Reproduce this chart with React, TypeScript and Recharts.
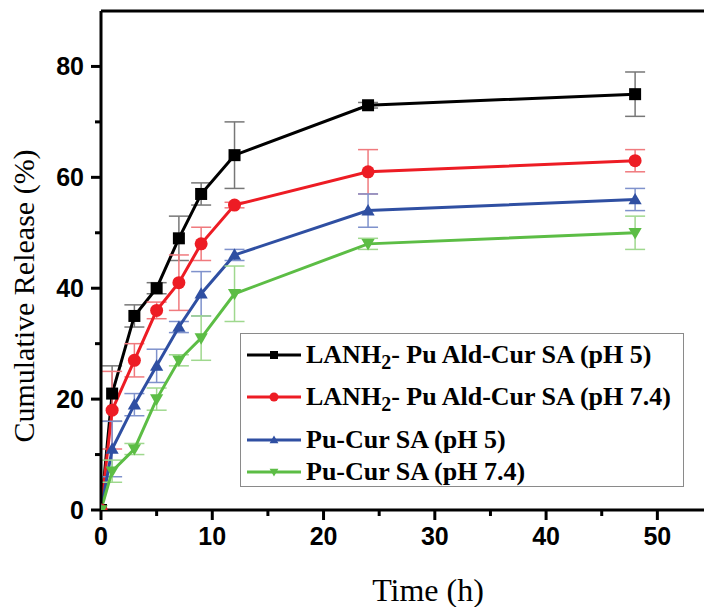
import * as React from "react";
import { LineChart, Line, XAxis, YAxis, ErrorBar, ReferenceLine } from "recharts";

const times = [0, 1, 3, 5, 7, 9, 12, 24, 48];

const lanhPh5 = [0, 21, 35, 40, 49, 57, 64, 73, 75];
const lanhPh5Err = [0, 5, 2, 1, 4, 2, 6, 0.5, 4];
const lanhPh74 = [0, 18, 27, 36, 41, 48, 55, 61, 63];
const lanhPh74Err = [0, 7, 3, 1.5, 5, 3, 0.5, 4, 2];
const puPh5 = [0, 11, 19, 26, 33, 39, 46, 54, 56];
const puPh5Err = [0, 5, 2, 3, 1, 4, 1, 3, 2];
const puPh74 = [0, 7, 11, 20, 27, 31, 39, 48, 50];
const puPh74Err = [0, 2, 1, 2, 1, 4, 5, 1, 3];

const xTicks = [0, 5, 10, 15, 20, 25, 30, 35, 40, 45, 50];
const yTicks = [0, 10, 20, 30, 40, 50, 60, 70, 80];

const BLACK = "#000000";
const RED = "#ed1c24";
const BLUE = "#2f4fa2";
const GREEN = "#5cbd45";

const data = times.map((t, i) => ({
  t,
  a: lanhPh5[i],
  aErr: lanhPh5Err[i],
  b: lanhPh74[i],
  bErr: lanhPh74Err[i],
  c: puPh5[i],
  cErr: puPh5Err[i],
  d: puPh74[i],
  dErr: puPh74Err[i],
}));

const tickFont = { fontFamily: "'Liberation Sans', Arial, sans-serif", fontWeight: 700, fontSize: 25 };
const serif = "'Liberation Serif', 'Times New Roman', serif";

function XTick(props: any) {
  const { x, y, payload } = props;
  const major = payload.value % 10 === 0;
  return (
    <g>
      <line x1={x} x2={x} y1={y} y2={y + (major ? 10 : 6)} stroke="#000" strokeWidth={3} />
      {major && (
        <text x={x} y={y + 35} textAnchor="middle" fill="#000" style={tickFont}>
          {payload.value}
        </text>
      )}
    </g>
  );
}

function YTick(props: any) {
  const { x, y, payload } = props;
  const major = payload.value % 20 === 0;
  return (
    <g>
      <line x1={x - (major ? 10 : 6)} x2={x} y1={y} y2={y} stroke="#000" strokeWidth={3} />
      {major && (
        <text x={x - 17} y={y + 9} textAnchor="end" fill="#000" style={tickFont}>
          {payload.value}
        </text>
      )}
    </g>
  );
}

function Marker({ kind, cx, cy, color, s }: { kind: string; cx: number; cy: number; color: string; s: number }) {
  if (kind === "square") return <rect x={cx - s / 2} y={cy - s / 2} width={s} height={s} fill={color} />;
  if (kind === "circle") return <circle cx={cx} cy={cy} r={s / 2} fill={color} />;
  if (kind === "up")
    return (
      <polygon
        points={`${cx},${cy - s * 0.55} ${cx - s * 0.55},${cy + s * 0.4} ${cx + s * 0.55},${cy + s * 0.4}`}
        fill={color}
      />
    );
  return (
    <polygon
      points={`${cx},${cy + s * 0.55} ${cx - s * 0.55},${cy - s * 0.4} ${cx + s * 0.55},${cy - s * 0.4}`}
      fill={color}
    />
  );
}

const dotFor = (kind: string, color: string) => (p: any) =>
  <Marker key={`${kind}-${p.index}`} kind={kind} cx={p.cx} cy={p.cy} color={color} s={kind === "circle" ? 13 : 12} />;

const legendRows = [
  { kind: "square", color: BLACK, text: "LANH", sub: "2", rest: "- Pu Ald-Cur SA (pH 5)", cy: 354 },
  { kind: "circle", color: RED, text: "LANH", sub: "2", rest: "- Pu Ald-Cur SA (pH 7.4)", cy: 396 },
  { kind: "up", color: BLUE, text: "Pu-Cur SA (pH 5)", sub: "", rest: "", cy: 439 },
  { kind: "down", color: GREEN, text: "Pu-Cur SA (pH 7.4)", sub: "", rest: "", cy: 471 },
];

export default function App() {
  return (
    <div
      style={{
        position: "fixed",
        left: 0,
        top: 0,
        width: 704,
        height: 607,
        overflow: "hidden",
        background: "#fff",
      }}
    >
      <LineChart width={720} height={607} data={data} margin={{ top: 11, right: 7, left: 0, bottom: 0 }}>
        <XAxis
          type="number"
          dataKey="t"
          domain={[0, 55]}
          ticks={xTicks}
          interval={0}
          height={97}
          tickLine={false}
          tickSize={0}
          tickMargin={0}
          tick={<XTick />}
          axisLine={{ stroke: "#000", strokeWidth: 3 }}
          allowDataOverflow
        />
        <YAxis
          type="number"
          domain={[0, 90]}
          ticks={yTicks}
          interval={0}
          width={101}
          tickLine={false}
          tickSize={0}
          tickMargin={0}
          tick={<YTick />}
          axisLine={{ stroke: "#000", strokeWidth: 3 }}
          allowDataOverflow
        />
        <ReferenceLine y={90} stroke="#000" strokeWidth={3} />
        <Line dataKey="a" stroke={BLACK} strokeWidth={3} dot={dotFor("square", BLACK)} isAnimationActive={false}>
          <ErrorBar dataKey="aErr" width={10} stroke="#777" strokeWidth={1.5} direction="y" />
        </Line>
        <Line dataKey="b" stroke={RED} strokeWidth={3} dot={dotFor("circle", RED)} isAnimationActive={false}>
          <ErrorBar dataKey="bErr" width={10} stroke="#f07a7e" strokeWidth={1.5} direction="y" />
        </Line>
        <Line dataKey="c" stroke={BLUE} strokeWidth={3} dot={dotFor("up", BLUE)} isAnimationActive={false}>
          <ErrorBar dataKey="cErr" width={10} stroke="#7f92cc" strokeWidth={1.5} direction="y" />
        </Line>
        <Line dataKey="d" stroke={GREEN} strokeWidth={3} dot={dotFor("down", GREEN)} isAnimationActive={false}>
          <ErrorBar dataKey="dErr" width={10} stroke="#9fd88e" strokeWidth={1.5} direction="y" />
        </Line>
      </LineChart>

      <div
        style={{
          position: "absolute",
          left: 24,
          top: 296,
          transform: "translate(-50%, -50%) rotate(-90deg)",
          whiteSpace: "nowrap",
          fontFamily: serif,
          fontSize: 30,
          color: "#000",
        }}
      >
        Cumulative Release (%)
      </div>
      <div
        style={{
          position: "absolute",
          left: 428,
          top: 590,
          transform: "translate(-50%, -50%)",
          whiteSpace: "nowrap",
          fontFamily: serif,
          fontSize: 32,
          color: "#000",
        }}
      >
        Time (h)
      </div>

      <div
        style={{
          position: "absolute",
          left: 240,
          top: 333,
          width: 444,
          height: 154,
          boxSizing: "border-box",
          border: "1.5px solid #8a8a8a",
          background: "#fff",
        }}
      >
        {legendRows.map((r) => (
          <div key={r.text + r.rest} style={{ position: "absolute", left: 0, top: r.cy - 333 - 20, height: 40, width: 440 }}>
            <svg width={56} height={40} style={{ position: "absolute", left: 6, top: 0 }}>
              <line x1={0} x2={54} y1={20} y2={20} stroke={r.color} strokeWidth={3} />
              <Marker kind={r.kind} cx={27} cy={20} color={r.color} s={r.kind === "circle" ? 9 : 8} />
            </svg>
            <div
              style={{
                position: "absolute",
                left: 65,
                top: 0,
                lineHeight: "40px",
                whiteSpace: "nowrap",
                fontFamily: serif,
                fontWeight: 700,
                fontSize: 26,
                color: "#000",
              }}
            >
              {r.text}
              {r.sub && <sub style={{ fontSize: 20, verticalAlign: "-6px", lineHeight: 0 }}>{r.sub}</sub>}
              {r.rest}
            </div>
          </div>
        ))}
      </div>
    </div>
  );
}
